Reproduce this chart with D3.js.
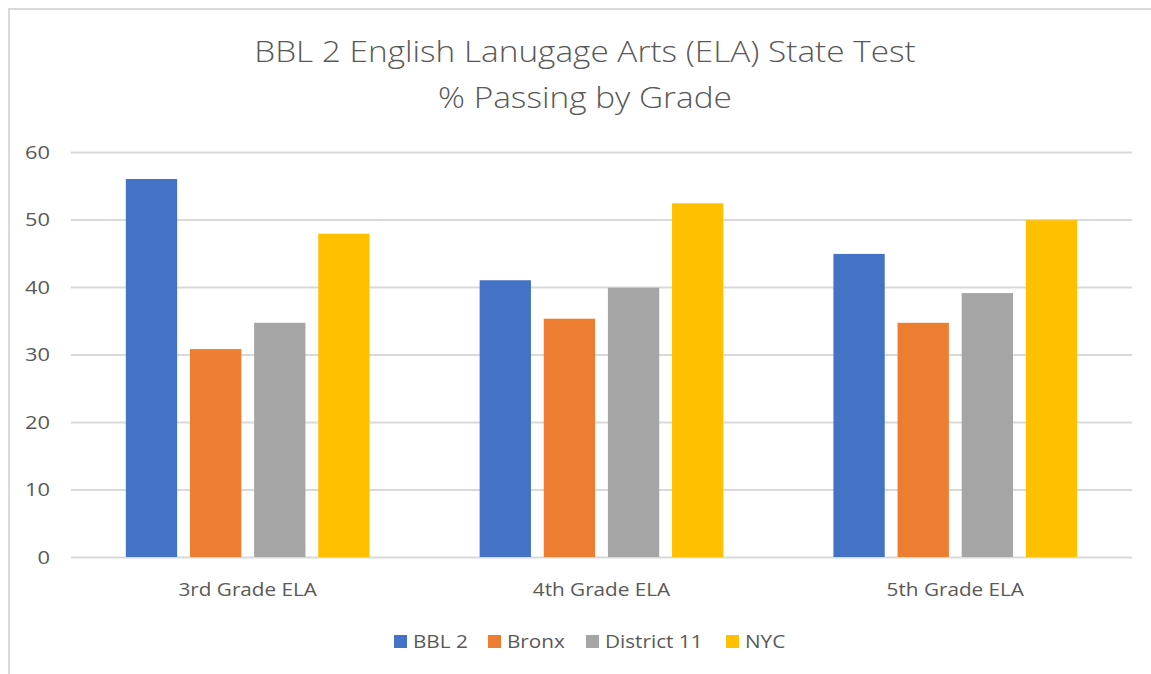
<!DOCTYPE html>
<html>
<head>
<meta charset="utf-8">
<script src="https://cdn.jsdelivr.net/npm/d3@7"></script>
<style>
  body { margin: 0; background: #fff; }
  text { font-family: "Open Sans", sans-serif; fill: #595959; }
</style>
</head>
<body>
<script>
// chart data
const grades = ["3rd Grade ELA", "4th Grade ELA", "5th Grade ELA"];
const seriesNames = ["BBL 2", "Bronx", "District 11", "NYC"];
const bbl2 = [56.0, 41.0, 44.9];
const bronx = [30.8, 35.3, 34.7];
const district11 = [34.7, 39.9, 39.1];
const nyc = [47.9, 52.4, 49.9];
const yTicks = [0, 10, 20, 30, 40, 50, 60];
const titleLines = ["BBL 2 English Lanugage Arts (ELA) State Test", "% Passing by Grade"];

const seriesValues = [bbl2, bronx, district11, nyc];
const colors = ["#4472c4", "#ed7d31", "#a5a5a5", "#ffc000"];

const width = 1151;
const height = 674;
const margin = { top: 152, right: 19, bottom: 117, left: 71 };

// the reference text is a bit wider than the fallback font, stretch it
const stretch = 1.15;
const stretchText = (sel) => {
  sel.each(function () {
    const w = this.getComputedTextLength();
    d3.select(this)
      .attr("textLength", w * stretch)
      .attr("lengthAdjust", "spacingAndGlyphs");
  });
};

const svg = d3
  .select("body")
  .append("svg")
  .attr("width", width)
  .attr("height", height);

// frame (top + left edges only visible)
svg
  .append("path")
  .attr("d", `M9,${height} V9 H${width}`)
  .attr("fill", "none")
  .attr("stroke", "#d9d9d9")
  .attr("stroke-width", 2);

// title
svg
  .append("g")
  .selectAll("text")
  .data(titleLines)
  .enter()
  .append("text")
  .attr("x", 585)
  .attr("y", (d, i) => 62 + i * 46)
  .attr("text-anchor", "middle")
  .attr("font-size", "29px")
  .attr("font-weight", 300)
  .text((d) => d)
  .call(stretchText);

const x0 = d3
  .scaleBand()
  .domain(grades)
  .range([margin.left, width - margin.right])
  .paddingInner(0.311)
  .paddingOuter(0.155);

const x1 = d3
  .scaleBand()
  .domain(seriesNames)
  .range([0, x0.bandwidth()])
  .paddingInner(0.2);

const y = d3
  .scaleLinear()
  .domain([0, 60])
  .range([height - margin.bottom, margin.top]);

// gridlines
const yAxis = svg
  .append("g")
  .attr("transform", `translate(${margin.left},0)`)
  .call(
    d3
      .axisLeft(y)
      .tickValues(yTicks)
      .tickSize(-(width - margin.left - margin.right))
      .tickPadding(21)
  );
yAxis.select(".domain").remove();
yAxis.selectAll(".tick line").attr("stroke", "#d9d9d9").attr("stroke-width", 2);
yAxis
  .selectAll(".tick text")
  .attr("font-size", "19px")
  .attr("font-family", "Open Sans, sans-serif")
  .attr("fill", "#595959")
  .call(stretchText);

// bars
const groups = svg
  .append("g")
  .selectAll("g")
  .data(grades)
  .enter()
  .append("g")
  .attr("transform", (d) => `translate(${x0(d)},0)`);

groups
  .selectAll("rect")
  .data((d, gi) => seriesNames.map((s, si) => ({ s, si, v: seriesValues[si][gi] })))
  .enter()
  .append("rect")
  .attr("x", (d) => x1(d.s))
  .attr("y", (d) => y(d.v))
  .attr("width", x1.bandwidth())
  .attr("height", (d) => y(0) - y(d.v))
  .attr("fill", (d) => colors[d.si]);

// category labels
svg
  .append("g")
  .selectAll("text")
  .data(grades)
  .enter()
  .append("text")
  .attr("x", (d) => x0(d) + x0.bandwidth() / 2)
  .attr("y", 596)
  .attr("text-anchor", "middle")
  .attr("font-size", "18px")
  .text((d) => d)
  .call(stretchText);

// legend
const legendX = [394, 488, 586, 726];
const legend = svg
  .append("g")
  .selectAll("g")
  .data(seriesNames)
  .enter()
  .append("g")
  .attr("transform", (d, i) => `translate(${legendX[i]},635)`);

legend
  .append("rect")
  .attr("width", 13)
  .attr("height", 13)
  .attr("fill", (d, i) => colors[i]);

legend
  .append("text")
  .attr("x", 19)
  .attr("y", 13)
  .attr("font-size", "18px")
  .text((d) => d)
  .call(stretchText);
</script>
</body>
</html>
